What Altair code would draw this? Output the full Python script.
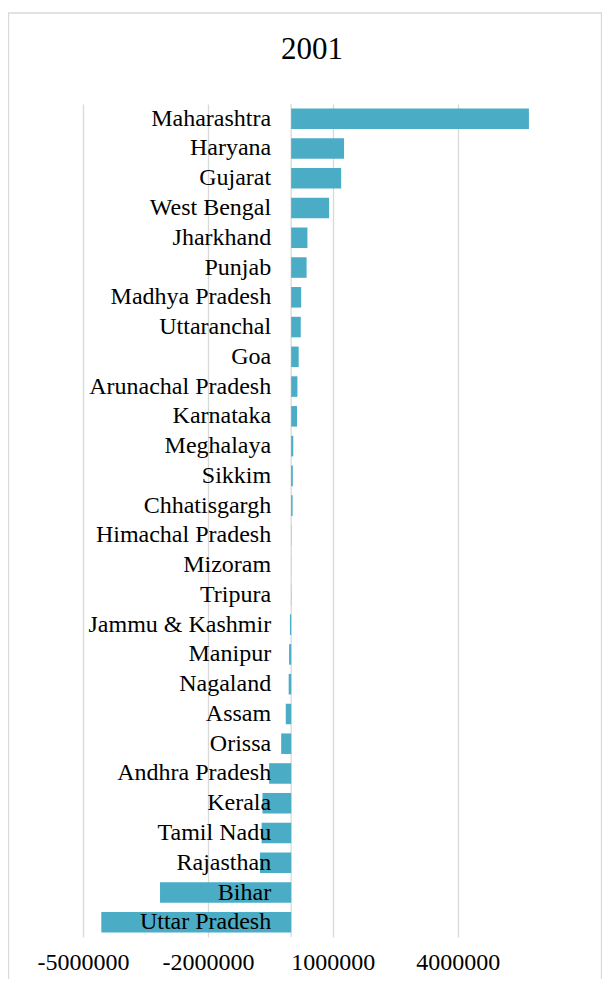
import altair as alt
import pandas as pd

states = [
    "Maharashtra", "Haryana", "Gujarat", "West Bengal", "Jharkhand", "Punjab",
    "Madhya Pradesh", "Uttaranchal", "Goa", "Arunachal Pradesh", "Karnataka",
    "Meghalaya", "Sikkim", "Chhatisgargh", "Himachal Pradesh", "Mizoram",
    "Tripura", "Jammu & Kashmir", "Manipur", "Nagaland", "Assam", "Orissa",
    "Andhra Pradesh", "Kerala", "Tamil Nadu", "Rajasthan", "Bihar", "Uttar Pradesh",
]
values = [
    5710000, 1270000, 1200000, 910000, 390000, 370000,
    240000, 230000, 180000, 150000, 140000,
    50000, 40000, 35000, 5000, 2000,
    -5000, -30000, -50000, -60000, -130000, -240000,
    -530000, -690000, -710000, -750000, -3150000, -4560000,
]
x_ticks = [-5000000, -2000000, 1000000, 4000000]
title_text = ["2001"]

df = pd.DataFrame({"state": states, "value": values})

W, H = 458, 833
FONT = "Liberation Serif"
GRID = "#d9d9d9"

xscale = alt.Scale(domain=[-5000000, 6000000], nice=False, zero=False)
x = alt.X(
    "value:Q",
    scale=xscale,
    axis=alt.Axis(
        values=x_ticks, labelExpr="'' + datum.value", title=None, grid=True,
        gridColor=GRID, gridWidth=1.3, ticks=False, domain=False,
        labelFont=FONT, labelFontSize=24, labelColor="black", labelPadding=13,
        labelOverlap=False, labelBound=False, labelFlush=False,
    ),
)
y = alt.Y(
    "state:N", sort=states,
    scale=alt.Scale(paddingInner=0.31, paddingOuter=0.15), axis=None,
)

border = alt.Chart(pd.DataFrame({"b": [0]})).mark_rect(
    fill=None, stroke=GRID, strokeWidth=1.3
).encode(
    x=alt.value(-74.5), x2=alt.value(518.5), y=alt.value(-91), y2=alt.value(900)
)

zero = alt.Chart(pd.DataFrame({"z": [0]})).mark_rule(
    color=GRID, strokeWidth=1.3
).encode(x=alt.X("z:Q", scale=xscale))

bars = alt.Chart(df).mark_bar(color="#4BACC6").encode(x=x, y=y)

labels = alt.Chart(df).mark_text(
    align="right", baseline="middle", dx=-20, font=FONT, fontSize=24, color="black"
).encode(x=alt.datum(0, scale=xscale), y=y, text="state:N")

title = alt.Chart(pd.DataFrame({"t": title_text})).mark_text(
    align="center", baseline="middle", font=FONT, fontSize=31, color="black"
).encode(x=alt.value(W / 2), y=alt.value(-54), text="t:N")

chart = alt.layer(border, zero, bars, labels, title).properties(
    width=W, height=H,
    autosize=alt.AutoSizeParams(type="none"),
    padding={"left": 75, "top": 96, "right": 61, "bottom": 42},
    background="white",
).configure_view(stroke=None)

chart.save("out.html", embed_options={"renderer": "svg", "actions": False})
